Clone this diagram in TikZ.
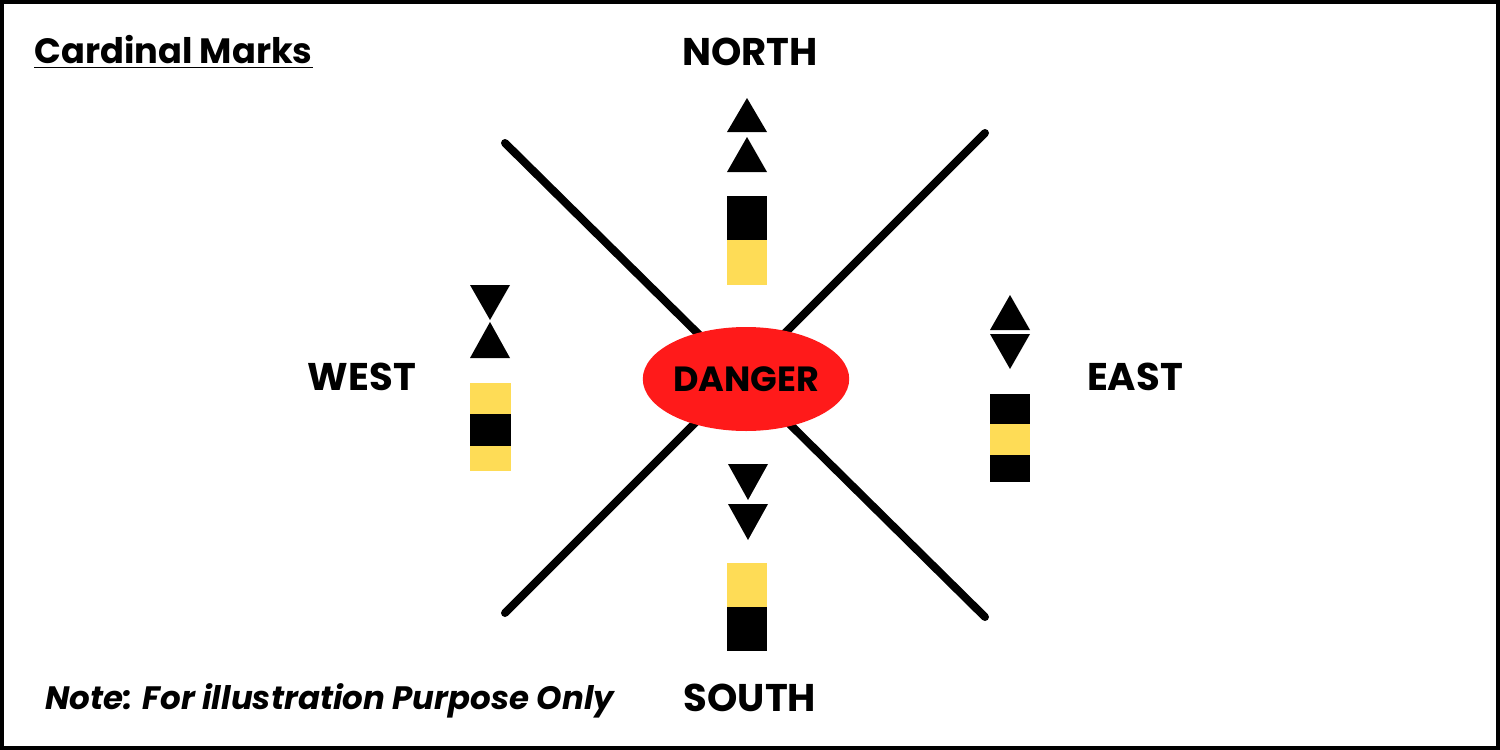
\documentclass[tikz,border=0pt]{standalone}
\usepackage{fontspec}
\setmainfont{Poppins}
\usetikzlibrary{shapes.geometric}
\definecolor{buoyY}{HTML}{FEDC56}
\definecolor{dangerR}{HTML}{FF1A1A}
\begin{document}
\begin{tikzpicture}[x=0.5pt,y=-0.5pt,
  lbl/.style={font=\bfseries\fontsize{19.3}{22}\selectfont},
  tri/.style={fill=black},
  ybox/.style={fill=buoyY},
  bbox/.style={fill=black}]
\useasboundingbox (0,0) rectangle (1500,750);
\draw[line width=2pt] (2,2) rectangle (1498,748);
% cross
\coordinate (a1) at (505,143); \coordinate (a2) at (985,617);
\coordinate (b1) at (985,133); \coordinate (b2) at (505,613);
\draw[line width=4pt,line cap=round] (a1) -- (a2);
\draw[line width=4pt,line cap=round] (b1) -- (b2);
\node[ellipse,fill=dangerR,minimum width=102pt,minimum height=52pt,inner sep=0pt,font=\bfseries\fontsize{17.5}{20}\selectfont] (danger) at (746,379) {DANGER};
% north
\fill[tri] (727,132) -- (767,132) -- (747,98) -- cycle;
\fill[tri] (727,172) -- (767,172) -- (747,137) -- cycle;
\fill[bbox] (727,196) rectangle (767,240);
\fill[ybox] (727,240) rectangle (767,285);
% west
\fill[tri] (470,285) -- (510,285) -- (490,320) -- cycle;
\fill[tri] (470,358) -- (510,358) -- (490,322) -- cycle;
\fill[ybox] (470,383) rectangle (511,414);
\fill[bbox] (470,414) rectangle (511,446);
\fill[ybox] (470,446) rectangle (511,471);
% east
\fill[tri] (990,330) -- (1030,330) -- (1010,295) -- cycle;
\fill[tri] (990,334) -- (1030,334) -- (1010,369) -- cycle;
\fill[bbox] (990,394) rectangle (1030,424);
\fill[ybox] (990,424) rectangle (1030,455);
\fill[bbox] (990,455) rectangle (1030,482);
% south
\fill[tri] (728,464) -- (768,464) -- (748,500) -- cycle;
\fill[tri] (728,504) -- (768,504) -- (748,540) -- cycle;
\fill[ybox] (727,563) rectangle (767,607);
\fill[bbox] (727,607) rectangle (767,651);
% labels
\node[lbl] (north) at (750,52) {NORTH};
\node[lbl] (south) at (750,698) {SOUTH};
\node[lbl] (west) at (362,377) {WEST};
\node[lbl] (east) at (1135,377) {EAST};
\node[anchor=west,inner sep=0pt,font=\bfseries\fontsize{17.6}{20}\selectfont] (title) at (34,52) {\underline{Cardinal Marks}};
\node[anchor=west,inner sep=0pt,font=\bfseries\itshape\fontsize{16.2}{18}\selectfont] (note) at (45,701) {Note: For illustration Purpose Only};
\end{tikzpicture}
\end{document}
